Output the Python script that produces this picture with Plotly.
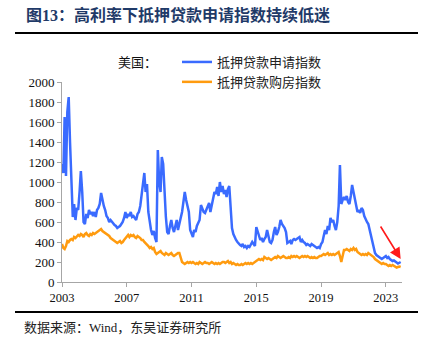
import pandas as pd
import plotly.graph_objects as go

# Monthly values (2003-01 .. 2023-12)
apps = [
    1180, 1090, 1650, 1060, 1700, 1850, 1400, 900, 650, 780, 620, 740,      # 2003
    720, 900, 1110, 900, 600, 580, 680, 640, 720, 680, 700, 660,            # 2004
    700, 650, 720, 740, 780, 890, 820, 760, 720, 660, 640, 600,             # 2005
    620, 600, 580, 570, 560, 540, 550, 560, 580, 600, 640, 700,             # 2006
    640, 680, 660, 700, 650, 660, 640, 620, 680, 700, 760, 880,             # 2007
    1000, 1090, 900, 980, 700, 600, 520, 470, 510, 440, 400, 1320,          # 2008
    1000, 900, 1250, 1180, 900, 650, 500, 480, 560, 620, 540, 500,          # 2009
    560, 620, 520, 600, 640, 700, 780, 900, 820, 760, 700, 520,             # 2010
    480, 450, 520, 500, 560, 590, 620, 770, 720, 700, 690, 720,             # 2011
    760, 790, 700, 760, 820, 900, 880, 950, 860, 1000, 900, 960,            # 2012
    880, 920, 850, 930, 960, 700, 540, 480, 440, 420, 400, 380,             # 2013
    370, 360, 380, 350, 360, 340, 360, 350, 370, 400, 380, 360,             # 2014
    550, 500, 480, 420, 440, 400, 430, 450, 520, 470, 400, 390,             # 2015
    420, 500, 550, 470, 500, 550, 620, 580, 560, 540, 500, 390,             # 2016
    400, 410, 380, 420, 430, 420, 430, 440, 450, 400, 420, 400,             # 2017
    390, 370, 380, 370, 360, 380, 370, 360, 350, 340, 350, 340,             # 2018
    380, 400, 460, 520, 480, 560, 520, 640, 600, 620, 560, 520,             # 2019
    600, 760, 1170, 780, 820, 850, 820, 860, 800, 780, 860, 970,            # 2020
    900, 820, 760, 700, 720, 690, 740, 720, 660, 620, 600, 580,             # 2021
    520, 460, 390, 330, 290, 270, 260, 250, 240, 230, 240, 250,             # 2022
    260, 240, 250, 230, 220, 210, 215, 200, 195, 185, 195, 200,             # 2023
]

purchase = [
    380, 340, 330, 360, 410, 400, 420, 430, 420, 450, 440, 460,             # 2003
    470, 460, 480, 470, 450, 480, 490, 470, 460, 480, 470, 490,             # 2004
    480, 490, 500, 510, 520, 530, 510, 500, 490, 480, 470, 460,             # 2005
    440, 430, 420, 410, 400, 390, 400, 410, 390, 400, 420, 440,             # 2006
    460, 470, 450, 470, 460, 470, 450, 440, 460, 450, 440, 420,             # 2007
    420, 400, 390, 370, 360, 340, 350, 330, 340, 300, 280, 290,             # 2008
    300, 310, 290, 280, 270, 290, 280, 270, 280, 290, 270, 260,             # 2009
    270, 280, 290, 290, 240, 200, 190, 180, 190, 200, 190, 200,             # 2010
    190, 200, 190, 180, 190, 180, 200, 190, 180, 190, 200, 190,             # 2011
    190, 180, 190, 200, 190, 180, 190, 180, 190, 180, 190, 200,             # 2012
    200, 190, 200, 210, 190, 200, 180, 190, 180, 170, 180, 170,             # 2013
    170, 180, 170, 180, 190, 180, 190, 180, 190, 180, 190, 200,             # 2014
    210, 220, 230, 220, 230, 220, 250, 240, 230, 240, 230, 220,             # 2015
    230, 240, 250, 240, 260, 250, 240, 250, 260, 250, 240, 240,             # 2016
    250, 240, 260, 250, 260, 250, 260, 250, 240, 250, 260, 250,             # 2017
    260, 250, 260, 250, 240, 250, 240, 250, 240, 240, 250, 260,             # 2018
    260, 270, 280, 270, 280, 290, 270, 280, 270, 280, 270, 280,             # 2019
    290, 300, 260, 200, 260, 320, 320, 330, 320, 310, 330, 320,             # 2020
    340, 320, 330, 300, 290, 280, 270, 280, 270, 280, 270, 290,             # 2021
    280, 270, 260, 250, 230, 220, 210, 200, 190, 180, 190, 180,             # 2022
    180, 170, 160, 170, 160, 170, 160, 150, 145, 150, 155, 150,             # 2023
]

dates = pd.date_range("2003-01-01", periods=len(apps), freq="MS")

tick_years = ["2003", "2007", "2011", "2015", "2019", "2023"]
y_ticks = list(range(0, 2001, 200))

series_names = ["抵押贷款申请指数", "抵押贷款购房指数"]
title_text = "图13：高利率下抵押贷款申请指数持续低迷"
source_text = "数据来源：Wind，东吴证券研究所"
region_text = "美国："

BLUE = "#3A6BFF"
ORANGE = "#FF9B0F"
SERIF = "Liberation Serif, Noto Sans CJK SC"
CJK = "Noto Sans CJK SC"

fig = go.Figure()
fig.add_trace(go.Scatter(x=dates, y=apps, mode="lines", name=series_names[0],
                         line=dict(color=BLUE, width=2.5)))
fig.add_trace(go.Scatter(x=dates, y=purchase, mode="lines", name=series_names[1],
                         line=dict(color=ORANGE, width=2.5)))

W, H = 428, 352
L, R, T, B = 62, 402, 82, 282


def px(x):
    return (x - L) / (R - L)


def py(y):
    return (B - y) / (B - T)


fig.update_layout(
    width=W, height=H,
    margin=dict(l=L, r=W - R, t=T, b=H - B),
    paper_bgcolor="white", plot_bgcolor="white",
    showlegend=True,
    legend=dict(x=px(177), y=py(47), xanchor="left", yanchor="top",
                font=dict(family=CJK, size=13, color="#222222"),
                bgcolor="rgba(0,0,0,0)", itemwidth=30, tracegroupgap=0),
    xaxis=dict(
        range=[pd.Timestamp("2003-01-01"), pd.Timestamp("2023-12-31")],
        tickmode="array",
        tickvals=[pd.Timestamp(f"{y}-01-01") for y in tick_years],
        ticktext=tick_years,
        showgrid=False, zeroline=False,
        showline=True, linecolor="#A6A6A6", linewidth=1,
        ticks="outside", ticklen=4, tickcolor="#A6A6A6",
        tickfont=dict(family=SERIF, size=12.5, color="#111111"),
    ),
    yaxis=dict(
        range=[0, 2000],
        tickmode="array", tickvals=y_ticks, ticktext=[str(v) for v in y_ticks],
        showgrid=False, zeroline=False,
        showline=True, linecolor="#A6A6A6", linewidth=1,
        ticks="outside", ticklen=4, tickcolor="#A6A6A6",
        tickfont=dict(family=SERIF, size=13, color="#111111"),
    ),
)

# title and source lines
fig.add_shape(type="line", xref="paper", yref="paper",
              x0=px(15), x1=px(418), y0=py(33), y1=py(33),
              line=dict(color="black", width=2))
fig.add_shape(type="line", xref="paper", yref="paper",
              x0=px(15), x1=px(418), y0=py(312), y1=py(312),
              line=dict(color="black", width=2))

fig.add_annotation(xref="paper", yref="paper", x=px(24), y=py(15),
                   xanchor="left", yanchor="middle", showarrow=False,
                   text="<b>" + title_text + "</b>",
                   font=dict(family=SERIF, size=16, color="#1F3A68"))
fig.add_annotation(xref="paper", yref="paper", x=px(22), y=py(327),
                   xanchor="left", yanchor="middle", showarrow=False,
                   text=source_text,
                   font=dict(family=SERIF, size=13, color="#222222"))
fig.add_annotation(xref="paper", yref="paper", x=px(116), y=py(62),
                   xanchor="left", yanchor="middle", showarrow=False,
                   text=region_text,
                   font=dict(family=CJK, size=13, color="#111111"))

# red arrow pointing at the latest values
fig.add_annotation(x=dates[-1], y=230, xref="x", yref="y",
                   showarrow=True, ax=-21, ay=-34,
                   arrowhead=2, arrowsize=1.4, arrowwidth=1.6,
                   arrowcolor="#FF1A1A", standoff=0, text="")

fig.write_html("out.html")
